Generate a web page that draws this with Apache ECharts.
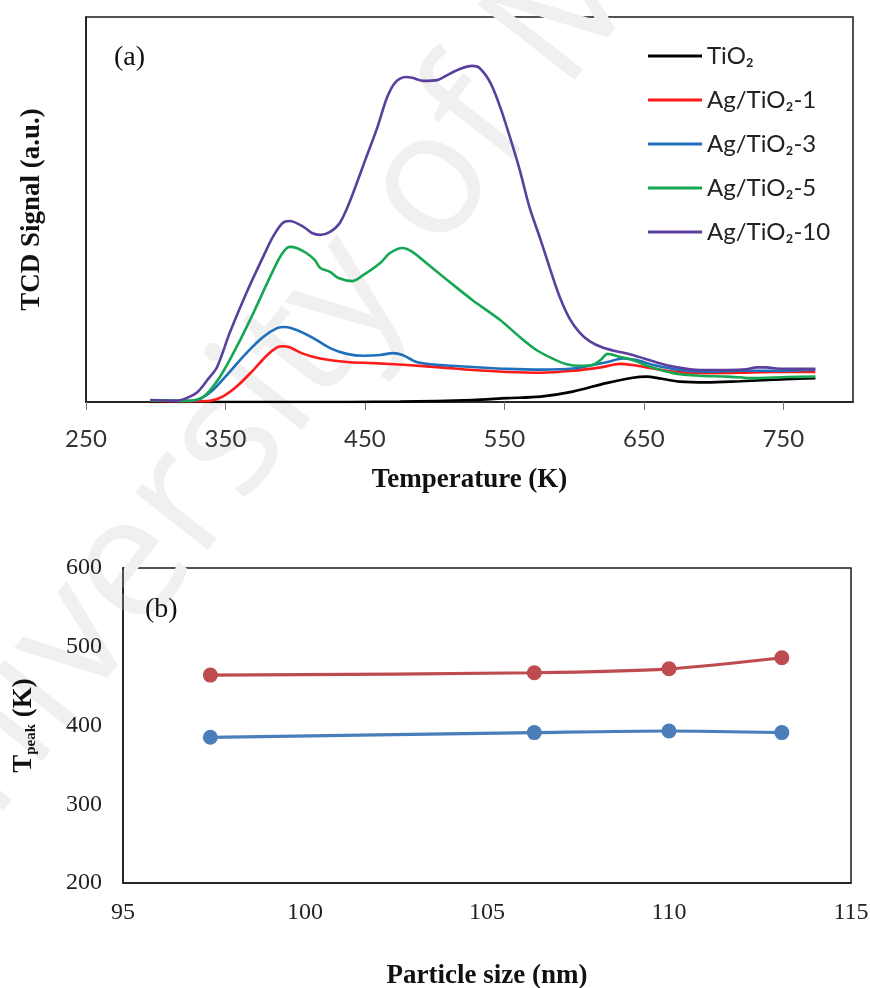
<!DOCTYPE html>
<html>
<head>
<meta charset="utf-8">
<script src="https://cdn.jsdelivr.net/npm/echarts@6/dist/echarts.min.js"></script>
<style>
  html, body { margin: 0; padding: 0; background: #fff; }
  #chart { width: 870px; height: 988px; }
</style>
</head>
<body>
<div id="chart"></div>
<script>
// (a) TPR profiles: temperature (K) and TCD signal (a.u.) per sample
const tio2T      = [296, 403, 475, 527, 552, 576, 599, 623, 642, 652, 662, 676, 695, 719, 752, 773];
const tio2Signal = [0, 0, 0.1, 0.5, 1.0, 1.4, 2.7, 4.9, 6.3, 6.6, 6.1, 5.3, 5.1, 5.4, 5.9, 6.2];

const ag1T      = [296, 330, 339, 348, 358, 370, 380, 387, 391, 396, 406, 418, 437, 456, 480, 504, 527, 552, 576, 599, 619, 633, 642, 652, 671, 695, 719, 743, 773];
const ag1Signal = [0.3, 0.2, 0.3, 1.4, 4.0, 8.3, 12.2, 14.2, 14.5, 14.2, 12.5, 11.3, 10.4, 10.1, 9.6, 9.0, 8.3, 7.8, 7.6, 8.1, 9.0, 9.9, 9.6, 9.0, 7.9, 7.5, 7.6, 7.8, 7.8];

const ag3T      = [296, 325, 332, 341, 353, 365, 377, 387, 393, 401, 413, 425, 437, 449, 461, 470, 477, 487, 504, 527, 552, 576, 599, 624, 635, 645, 657, 676, 695, 719, 743, 773];
const ag3Signal = [0.4, 0.3, 0.8, 3.1, 7.8, 12.7, 16.9, 19.2, 19.5, 18.7, 16.6, 14.0, 12.5, 12.0, 12.2, 12.7, 12.2, 10.4, 9.6, 9.1, 8.6, 8.4, 8.7, 10.4, 11.3, 10.9, 9.6, 8.3, 7.9, 8.1, 8.1, 8.4];

const ag5T      = [296, 321, 334, 346, 358, 370, 382, 390, 396, 401, 408, 414, 418, 425, 431, 441, 449, 461, 468, 477, 484, 494, 509, 527, 547, 561, 573, 585, 594, 604, 613, 619, 624, 631, 642, 654, 671, 690, 710, 728, 753, 773];
const ag5Signal = [0.4, 0.3, 1.3, 6.5, 14.3, 23.1, 32.5, 38.2, 40.3, 40.0, 38.7, 36.9, 34.8, 33.8, 32.2, 31.4, 33.0, 36.1, 38.7, 40.0, 39.0, 36.1, 31.7, 26.5, 21.3, 16.9, 13.5, 11.2, 9.9, 9.4, 9.6, 10.9, 12.5, 11.9, 10.9, 9.2, 7.5, 6.8, 6.6, 6.2, 6.5, 6.6];

const ag10T      = [296, 314, 322, 330, 337, 344, 353, 365, 377, 384, 391, 396, 406, 412, 418, 425, 432, 439, 451, 459, 466, 472, 479, 484, 492, 502, 509, 518, 527, 532, 540, 547, 554, 561, 568, 576, 583, 590, 597, 604, 611, 620, 630, 640, 650, 660, 671, 690, 710, 724, 731, 738, 745, 753, 773];
const ag10Signal = [0.5, 0.3, 1.0, 2.6, 5.7, 9.1, 17.9, 28.3, 37.7, 42.9, 46.5, 47.0, 45.5, 43.9, 43.4, 44.2, 46.5, 51.9, 63.6, 71.4, 79.2, 83.1, 84.4, 84.2, 83.4, 83.6, 84.9, 86.5, 87.3, 86.8, 82.9, 76.6, 68.8, 60.3, 50.6, 42.1, 34.3, 27.0, 21.5, 18.0, 15.8, 14.2, 13.2, 12.4, 11.3, 10.2, 9.2, 8.3, 8.3, 8.5, 9.0, 9.0, 8.7, 8.6, 8.6];

const sampleNames  = ['TiO\u2082', 'Ag/TiO\u2082-1', 'Ag/TiO\u2082-3', 'Ag/TiO\u2082-5', 'Ag/TiO\u2082-10'];
const sampleColors = ['#000000', '#ff1a1a', '#1f6fbd', '#16a752', '#5a409c'];

// (b) peak temperatures versus particle size
const particleSize = [97.4, 106.3, 110.0, 113.1];
const lowTempPeak  = [385, 391, 393, 391];
const highTempPeak = [464, 467, 472, 486];

// x-axis tick labels of panel (a)
const tempTicks = [250, 350, 450, 550, 650, 750];

const pair = (xs, ys) => xs.map((x, i) => [x, ys[i]]);
const profiles = [
  pair(tio2T, tio2Signal),
  pair(ag1T, ag1Signal),
  pair(ag3T, ag3Signal),
  pair(ag5T, ag5Signal),
  pair(ag10T, ag10Signal)
];

const serif = '"Liberation Serif", "Times New Roman", serif';
const sans = 'Lato, "Open Sans", sans-serif';

const chart = echarts.init(document.getElementById('chart'), null, { renderer: 'canvas' });

const option = {
  backgroundColor: '#ffffff',
  animation: false,
  grid: [
    { left: 86, top: 17, width: 767, height: 385, show: true, borderColor: '#1a1a1a', borderWidth: 1.5, outerBoundsMode: 'none' },
    { left: 123, top: 568, width: 728, height: 315, show: true, borderColor: '#1a1a1a', borderWidth: 1.5, outerBoundsMode: 'none' }
  ],
  legend: {
    orient: 'vertical',
    left: 648,
    top: 44,
    padding: 0,
    itemGap: 20,
    itemWidth: 54,
    itemHeight: 3,
    icon: 'rect',
    data: sampleNames,
    textStyle: { fontFamily: sans, fontSize: 24, color: '#222' }
  },
  graphic: [
    {
      type: 'text', x: 378, y: 252, rotation: 52 * Math.PI / 180, silent: true, z: 0,
      style: {
        text: 'University of Malaya', fontFamily: 'Open Sans, sans-serif', fontSize: 172,
        fill: '#f0f0f0', align: 'center', verticalAlign: 'middle'
      }
    },
    { type: 'text', left: 114, top: 44, z: 5, style: { text: '(a)', font: '28px ' + serif, fill: '#111' } },
    { type: 'text', left: 145, top: 596, z: 5, style: { text: '(b)', font: '28px ' + serif, fill: '#111' } }
  ],
  xAxis: [
    {
      type: 'value', gridIndex: 0, min: tempTicks[0], max: 800, interval: 100,
      axisLine: { show: true, lineStyle: { color: '#1a1a1a', width: 1.5 } },
      axisTick: { show: true, inside: false, length: 8, lineStyle: { color: '#777' } },
      axisLabel: {
        showMaxLabel: false, margin: 25, fontFamily: sans, fontSize: 24, color: '#333',
        formatter: v => (tempTicks.indexOf(v) >= 0 ? String(v) : '')
      },
      splitLine: { show: false },
      name: 'Temperature (K)', nameLocation: 'middle', nameGap: 65,
      nameTextStyle: { fontFamily: serif, fontWeight: 'bold', fontSize: 27, color: '#111' }
    },
    {
      type: 'value', gridIndex: 1, min: 95, max: 115, interval: 5,
      axisLine: { show: true, lineStyle: { color: '#1a1a1a', width: 1.5 } },
      axisTick: { show: false },
      axisLabel: { margin: 18, fontFamily: serif, fontSize: 24, color: '#222' },
      splitLine: { show: false },
      name: 'Particle size (nm)', nameLocation: 'middle', nameGap: 80,
      nameTextStyle: { fontFamily: serif, fontWeight: 'bold', fontSize: 27, color: '#111' }
    }
  ],
  yAxis: [
    {
      type: 'value', gridIndex: 0, min: 0, max: 100,
      axisLine: { show: true, lineStyle: { color: '#1a1a1a', width: 1.5 } },
      axisTick: { show: false },
      axisLabel: { show: false },
      splitLine: { show: false },
      name: 'TCD Signal (a.u.)', nameLocation: 'middle', nameGap: 40, nameRotate: 90,
      nameTextStyle: { fontFamily: serif, fontWeight: 'bold', fontSize: 27, color: '#111' }
    },
    {
      type: 'value', gridIndex: 1, min: 200, max: 600, interval: 100,
      axisLine: { show: true, lineStyle: { color: '#1a1a1a', width: 1.5 } },
      axisTick: { show: false },
      axisLabel: { margin: 21, fontFamily: serif, fontSize: 24, color: '#222' },
      splitLine: { show: false },
      name: '{t|T}{s|peak}{t| (K)}', nameLocation: 'middle', nameGap: 84, nameRotate: 90,
      nameTextStyle: {
        rich: {
          t: { fontFamily: serif, fontWeight: 'bold', fontSize: 27, color: '#111', lineHeight: 30 },
          s: { fontFamily: serif, fontWeight: 'bold', fontSize: 15, color: '#111', verticalAlign: 'bottom' }
        }
      }
    }
  ],
  series: [
    ...profiles.map((data, i) => ({
      name: sampleNames[i],
      type: 'line',
      xAxisIndex: 0,
      yAxisIndex: 0,
      data: data,
      showSymbol: false,
      smooth: 0.3,
      z: 3 + i,
      color: sampleColors[i],
      lineStyle: { width: 2.6, color: sampleColors[i] }
    })),
    {
      name: 'T1', type: 'line', xAxisIndex: 1, yAxisIndex: 1,
      data: pair(particleSize, highTempPeak),
      symbol: 'circle', symbolSize: 15, smooth: 0.3,
      color: '#bd4b4f',
      lineStyle: { width: 3.2, color: '#bd4b4f' },
      itemStyle: { color: '#bd4b4f' }
    },
    {
      name: 'T2', type: 'line', xAxisIndex: 1, yAxisIndex: 1,
      data: pair(particleSize, lowTempPeak),
      symbol: 'circle', symbolSize: 15, smooth: 0.3,
      color: '#4a7ebb',
      lineStyle: { width: 3.2, color: '#4a7ebb' },
      itemStyle: { color: '#4a7ebb' }
    }
  ]
};

chart.setOption(option);
</script>
</body>
</html>
